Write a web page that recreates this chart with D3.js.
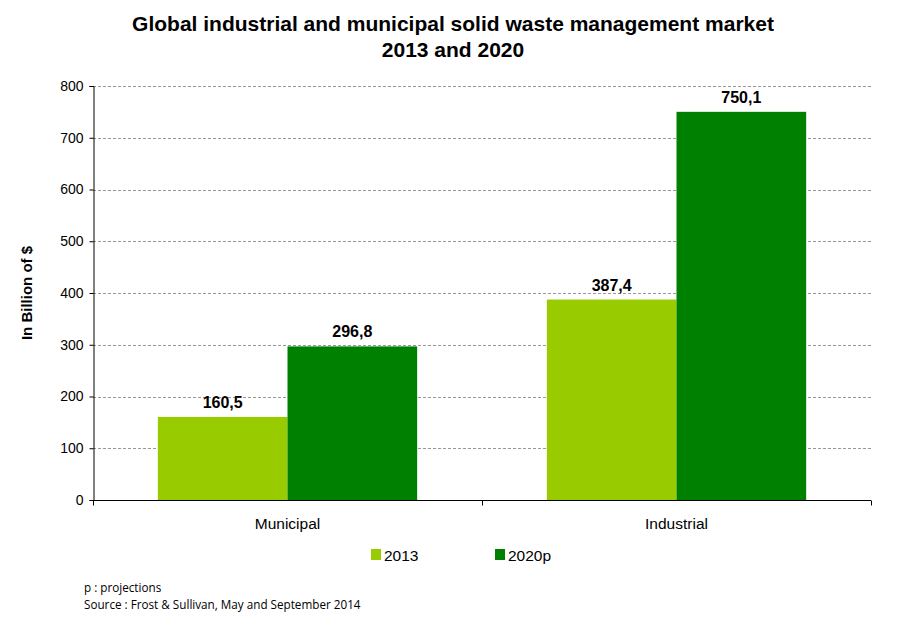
<!DOCTYPE html>
<html><head><meta charset="utf-8">
<script src="https://cdn.jsdelivr.net/npm/d3@7"></script>
<style>
body{margin:0;background:#fff;}
text{font-family:"Liberation Sans",Arial,sans-serif;}
text.foot{font-family:"Open Sans",sans-serif;}
</style></head>
<body><svg id="c" width="904" height="628"></svg>
<script>
const categories = ["Municipal", "Industrial"];
const seriesNames = ["2013", "2020p"];
const values2013 = [160.5, 387.4];
const values2020 = [296.8, 750.1];
const yTicks = [0, 100, 200, 300, 400, 500, 600, 700, 800];
const colors = ["#99CC00", "#008000"];

const svg = d3.select("#c");
const m = {left: 93, right: 871, top: 86, bottom: 500};
const x = d3.scaleBand().domain(categories).range([m.left, m.right]).paddingInner(0).paddingOuter(0);
const x1 = d3.scaleBand().domain(seriesNames).range([0, x.bandwidth()]).paddingOuter(0.5).paddingInner(0);
const y = d3.scaleLinear().domain([0, 800]).range([m.bottom, m.top]);
const fmt = v => String(v).replace(".", ",");

// gridlines
svg.append("g").selectAll("line").data(yTicks.filter(t => t > 0)).join("line")
  .attr("x1", m.left).attr("x2", m.right)
  .attr("y1", d => Math.round(y(d)) + 0.5).attr("y2", d => Math.round(y(d)) + 0.5)
  .attr("stroke", "#999").attr("stroke-dasharray", "3,2").attr("stroke-width", 1);

// bars
const data = [];
categories.forEach((c, i) => {
  data.push({c, s: seriesNames[0], v: values2013[i], col: colors[0]});
  data.push({c, s: seriesNames[1], v: values2020[i], col: colors[1]});
});
svg.append("g").selectAll("rect").data(data).join("rect")
  .attr("x", d => x(d.c) + x1(d.s))
  .attr("width", x1.bandwidth())
  .attr("y", d => y(d.v))
  .attr("height", d => y(0) - y(d.v))
  .attr("fill", d => d.col);

svg.append("g").selectAll("text").data(data).join("text")
  .attr("x", d => x(d.c) + x1(d.s) + x1.bandwidth() / 2)
  .attr("y", d => y(d.v) - 9)
  .attr("text-anchor", "middle")
  .attr("font-weight", "bold").attr("font-size", 16)
  .text(d => fmt(d.v));

// y axis
const ya = svg.append("g").attr("transform", `translate(${m.left + 0.5},0)`)
  .call(d3.axisLeft(y).tickValues(yTicks).tickSize(4).tickPadding(6).tickFormat(d3.format("d")));
ya.select(".domain").attr("stroke", "#000");
ya.selectAll("line").attr("stroke", "#000");
ya.selectAll("text").attr("font-size", 14).attr("fill", "#000").attr("font-family", null);

// x axis
const xa = svg.append("g").attr("transform", `translate(0,${m.bottom + 0.5})`);
xa.append("line").attr("x1", m.left).attr("x2", m.right).attr("stroke", "#000");
const bounds = [m.left, x(categories[1]), m.right];
xa.selectAll("line.t").data(bounds).join("line").attr("class", "t")
  .attr("x1", d => Math.round(d) + 0.5).attr("x2", d => Math.round(d) + 0.5)
  .attr("y1", 0).attr("y2", 5).attr("stroke", "#000");
xa.selectAll("text").data(categories).join("text")
  .attr("x", d => x(d) + x.bandwidth() / 2).attr("y", 28)
  .attr("text-anchor", "middle").attr("font-size", 15.5).text(d => d);

// y title
svg.append("text").attr("transform", "translate(32,293) rotate(-90)")
  .attr("text-anchor", "middle").attr("font-weight", "bold").attr("font-size", 15)
  .text("In Billion of $");

// title
svg.append("text").attr("x", 453).attr("y", 31).attr("text-anchor", "middle")
  .attr("font-weight", "bold").attr("font-size", 21)
  .text("Global industrial and municipal solid waste management market");
svg.append("text").attr("x", 453).attr("y", 57).attr("text-anchor", "middle")
  .attr("font-weight", "bold").attr("font-size", 21).text("2013 and 2020");

// legend
const legX = [371, 495];
seriesNames.forEach((s, i) => {
  svg.append("rect").attr("x", legX[i]).attr("y", 549).attr("width", 10).attr("height", 11).attr("fill", colors[i]);
  svg.append("text").attr("x", legX[i] + 13).attr("y", 561).attr("font-size", 15.5).text(s);
});

// footnotes
svg.append("text").attr("class", "foot").attr("x", 84).attr("y", 592).attr("font-size", 11.7).text("p : projections");
svg.append("text").attr("class", "foot").attr("x", 84).attr("y", 609).attr("font-size", 11.7).text("Source : Frost & Sullivan, May and September 2014");
</script></body></html>
